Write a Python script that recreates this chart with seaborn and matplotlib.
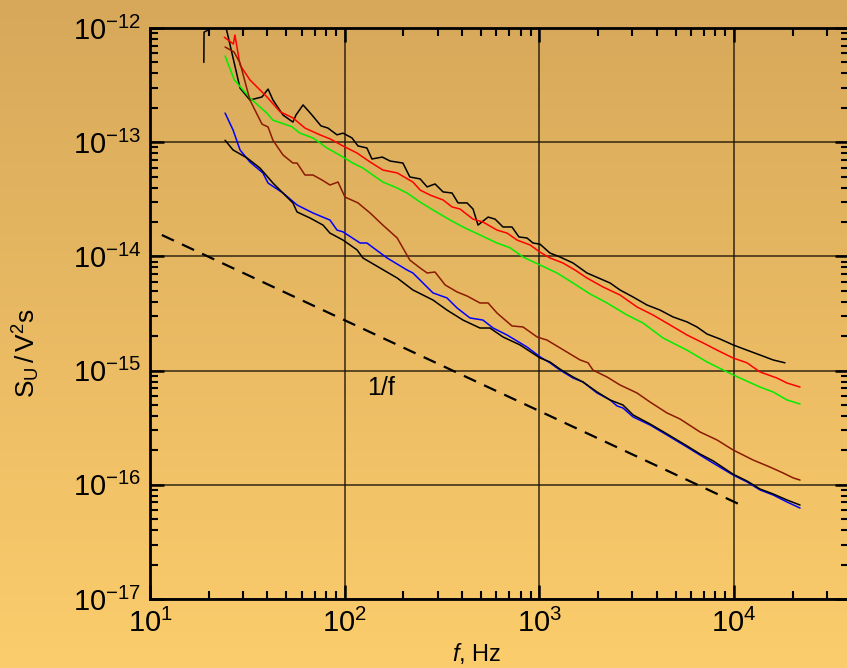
import numpy as np
import pandas as pd
import seaborn as sns
import matplotlib.pyplot as plt
from matplotlib.ticker import LogLocator, NullFormatter

# spectra (f in Hz, S_U in V^2 s)
f_black1 = [18.9, 18.95, 19.9, 21.0, 22.8, 29.0, 32.6, 37.6, 40.4, 42.8, 48.2, 54.2, 56.2, 61.1,
            67.9, 75.5, 82.0, 91.3, 98.0, 109, 117, 130, 138, 156, 171, 199, 216, 244, 265, 291,
            320, 356, 382, 425, 456, 484, 545, 592, 650, 723, 785, 863, 927, 1007, 1133, 1276,
            1489, 1754, 2306, 2595, 3027, 3573, 4160, 4856, 5728, 6445, 7261, 8466, 9870, 11640,
            13580, 15850, 18240]
s_black1 = [5.0e-13, 9.2e-13, 9.6e-13, 2.0e-12, 1.75e-12, 2.98e-13, 2.34e-13, 2.49e-13, 2.92e-13,
            2.34e-13, 1.73e-13, 1.50e-13, 1.73e-13, 2.12e-13, 1.73e-13, 1.39e-13, 1.33e-13,
            1.16e-13, 1.20e-13, 1.09e-13, 9.27e-14, 8.90e-14, 7.13e-14, 7.41e-14, 6.84e-14,
            6.57e-14, 4.96e-14, 4.77e-14, 4.06e-14, 4.31e-14, 3.67e-14, 3.59e-14, 2.94e-14,
            2.94e-14, 2.60e-14, 1.88e-14, 2.21e-14, 2.12e-14, 1.81e-14, 1.81e-14, 1.48e-14,
            1.45e-14, 1.31e-14, 1.28e-14, 1.07e-14, 9.88e-15, 8.75e-15, 7.16e-15, 5.85e-15,
            5.08e-15, 4.41e-15, 3.75e-15, 3.39e-15, 2.95e-15, 2.67e-15, 2.41e-15, 2.09e-15,
            1.89e-15, 1.68e-15, 1.51e-15, 1.37e-15, 1.24e-15, 1.17e-15]

f_red = [24.1, 26.8, 27.3, 29.0, 32.6, 39.8, 46.5, 54.3, 62.5, 74.6, 84.0, 98.0, 115.7, 135, 157,
         186, 224, 244, 274, 320, 356, 391, 456, 513, 606, 682, 768, 895, 1007, 1133, 1321, 1523,
         1754, 2122, 2595, 3170, 3828, 4688, 5728, 6918, 8180, 9870, 11640, 13580, 16600, 18700,
         21800]
s_red = [8.3e-13, 7.24e-13, 8.68e-13, 4.74e-13, 3.51e-13, 2.50e-13, 1.85e-13, 1.63e-13, 1.33e-13,
         1.16e-13, 1.07e-13, 9.27e-14, 8.04e-14, 6.71e-14, 5.71e-14, 5.38e-14, 4.48e-14, 3.81e-14,
         3.45e-14, 3.12e-14, 2.71e-14, 2.60e-14, 2.12e-14, 2.00e-14, 1.70e-14, 1.60e-14, 1.39e-14,
         1.26e-14, 1.09e-14, 9.69e-15, 8.75e-15, 7.60e-15, 6.47e-15, 5.40e-15, 4.59e-15, 3.61e-15,
         3.07e-15, 2.51e-15, 2.05e-15, 1.75e-15, 1.51e-15, 1.29e-15, 1.17e-15, 9.73e-16, 8.61e-16,
         7.78e-16, 7.18e-16]

f_green = [24.3, 27.1, 32.6, 39.8, 42.8, 53.4, 58.9, 68.7, 81.1, 98.0, 110, 124, 157, 186, 209,
           244, 284, 348, 405, 495, 606, 706, 824, 1007, 1231, 1489, 1820, 2224, 2818, 3406,
           4315, 5728, 7261, 9204, 10720, 13580, 15850, 18700, 21800]
s_green = [5.69e-13, 3.51e-13, 2.44e-13, 1.80e-13, 1.56e-13, 1.37e-13, 1.20e-13, 1.09e-13,
           8.90e-14, 7.41e-14, 6.57e-14, 5.94e-14, 4.48e-14, 3.97e-14, 3.59e-14, 2.99e-14,
           2.55e-14, 2.08e-14, 1.81e-14, 1.54e-14, 1.31e-14, 1.19e-14, 9.88e-15, 8.41e-15,
           7.16e-15, 5.85e-15, 4.69e-15, 3.91e-15, 3.07e-15, 2.61e-15, 1.93e-15, 1.51e-15,
           1.19e-15, 9.73e-16, 8.61e-16, 7.18e-16, 6.50e-16, 5.53e-16, 5.10e-16]

f_brown = [24.3, 27.0, 29.0, 32.6, 37.6, 40.4, 42.8, 48.2, 54.2, 56.9, 62.5, 68.7, 76.4, 84.0,
           92.4, 100.3, 117, 135, 157, 186, 216, 244, 265, 291, 328, 378, 425, 495, 545, 606,
           723, 824, 973, 1094, 1276, 1617, 1778, 1884, 2224, 2595, 3170, 3698, 4519, 5272,
           6683, 8166, 9870, 12500, 15280, 17830, 20080, 21800]
s_brown = [6.82e-13, 6.17e-13, 4.94e-13, 2.34e-13, 1.44e-13, 1.36e-13, 1.04e-13, 7.73e-14,
           6.57e-14, 6.57e-14, 5.16e-14, 5.16e-14, 4.67e-14, 4.22e-14, 4.48e-14, 3.31e-14,
           2.94e-14, 2.40e-14, 1.88e-14, 1.45e-14, 9.29e-15, 7.91e-15, 7.16e-15, 7.30e-15,
           5.62e-15, 4.88e-15, 4.50e-15, 3.91e-15, 3.91e-15, 3.19e-15, 2.46e-15, 2.41e-15,
           1.97e-15, 1.85e-15, 1.58e-15, 1.24e-15, 1.17e-15, 1.01e-15, 8.79e-16, 7.48e-16,
           6.37e-16, 5.31e-16, 4.26e-16, 3.77e-16, 2.90e-16, 2.47e-16, 2.02e-16, 1.65e-16,
           1.43e-16, 1.27e-16, 1.15e-16, 1.10e-16]

f_blue = [24.3, 26.7, 29.0, 32.6, 38.0, 40.4, 48.2, 56.9, 68.7, 84.0, 91.3, 98.0, 120, 130, 165,
          209, 224, 284, 335, 378, 440, 513, 578, 682, 863, 1007, 1133, 1276, 1489, 1675, 1977,
          2306, 2506, 2685, 3027, 3698, 4519, 5728, 6683, 7798, 9870, 11640, 13580, 15850,
          18700, 21800]
s_blue = [1.80e-13, 1.28e-13, 8.55e-14, 6.71e-14, 5.38e-14, 4.39e-14, 3.59e-14, 2.82e-14,
          2.40e-14, 2.08e-14, 1.70e-14, 1.64e-14, 1.31e-14, 1.31e-14, 9.69e-15, 7.60e-15,
          7.16e-15, 4.79e-15, 4.33e-15, 3.53e-15, 2.89e-15, 2.77e-15, 2.36e-15, 2.05e-15,
          1.61e-15, 1.32e-15, 1.17e-15, 1.01e-15, 8.61e-16, 7.94e-16, 6.37e-16, 5.53e-16,
          4.90e-16, 4.71e-16, 3.93e-16, 3.34e-16, 2.73e-16, 2.14e-16, 1.82e-16, 1.55e-16,
          1.22e-16, 1.06e-16, 9.02e-17, 8.15e-17, 7.07e-17, 6.26e-17]

f_black2 = [24.3, 26.7, 31.5, 36.7, 42.8, 50.5, 54.2, 56.9, 66.3, 77.4, 84.0, 98.0, 115.7, 124,
            152, 186, 224, 284, 335, 405, 495, 557, 650, 794, 1007, 1133, 1276, 1489, 1675, 1977,
            2306, 2685, 3027, 3698, 4519, 5728, 6683, 7798, 9870, 11640, 13580, 15850, 18700,
            21800]
s_black2 = [1.04e-13, 8.55e-14, 7.28e-14, 5.94e-14, 4.39e-14, 3.31e-14, 2.94e-14, 2.45e-14,
            2.17e-14, 1.88e-14, 1.60e-14, 1.39e-14, 1.14e-14, 9.69e-15, 7.91e-15, 6.47e-15,
            5.08e-15, 4.15e-15, 3.39e-15, 2.77e-15, 2.36e-15, 2.36e-15, 1.97e-15, 1.68e-15,
            1.29e-15, 1.19e-15, 1.03e-15, 8.79e-16, 7.94e-16, 6.50e-16, 5.53e-16, 5.00e-16,
            4.09e-16, 3.41e-16, 2.79e-16, 2.19e-16, 1.86e-16, 1.62e-16, 1.24e-16, 1.08e-16,
            9.19e-17, 8.32e-17, 7.36e-17, 6.65e-17]

# 1/f guide line
f_guide = [11.5, 10840]
s_guide = [1.54e-14, 6.65e-17]

# decade ticks
x_ticks = [1e1, 1e2, 1e3, 1e4]
y_ticks = [1e-17, 1e-16, 1e-15, 1e-14, 1e-13, 1e-12]

curves = {
    "black1": (f_black1, s_black1),
    "red": (f_red, s_red),
    "green": (f_green, s_green),
    "brown": (f_brown, s_brown),
    "blue": (f_blue, s_blue),
    "black2": (f_black2, s_black2),
}
colors = {"black1": "#000000", "red": "#ff0000", "green": "#00ee00",
          "brown": "#8b1a00", "blue": "#0000ff", "black2": "#000000"}

df = pd.concat([pd.DataFrame({"f": f, "S": s, "curve": name}) for name, (f, s) in curves.items()],
               ignore_index=True)
guide = pd.DataFrame({"f": f_guide, "S": s_guide})

sns.set_theme(style="ticks")
plt.rcParams["font.family"] = ["Liberation Sans", "DejaVu Sans"]
plt.rcParams["mathtext.fontset"] = "custom"
plt.rcParams["mathtext.rm"] = "Liberation Sans"
plt.rcParams["mathtext.it"] = "Liberation Sans:italic"
plt.rcParams["mathtext.default"] = "regular"
plt.rcParams["text.color"] = "black"
plt.rcParams["axes.labelcolor"] = "black"

fig = plt.figure(figsize=(8.47, 6.68), dpi=100)

# vertical gradient background, drawn straight into the figure
top = np.array([215, 168, 90]) / 255
bot = np.array([252, 205, 108]) / 255
t = np.linspace(0, 1, 668)[:, None, None]
grad = np.repeat(top * (1 - t) + bot * t, 847, axis=1)
fig.figimage(grad, xo=0, yo=0, origin="upper", zorder=0)

ax = fig.add_axes([150 / 847, 69 / 668, 699 / 847, 571 / 668], zorder=1)
ax.set_facecolor("none")

sns.lineplot(data=df, x="f", y="S", hue="curve", palette=colors, sort=False,
             estimator=None, legend=False, lw=1.1, ax=ax)
sns.lineplot(data=guide, x="f", y="S", color="black", lw=1.6, ax=ax,
             linestyle=(0, (6, 4)))

ax.set_xscale("log")
ax.set_yscale("log")
ax.set_xticks(x_ticks)
ax.set_yticks(y_ticks)
ax.set_xlim(10, 10 ** 4.59)
ax.set_ylim(1e-17, 1e-12)

ax.xaxis.set_minor_locator(LogLocator(base=10, subs=np.arange(2, 10), numticks=100))
ax.yaxis.set_minor_locator(LogLocator(base=10, subs=np.arange(2, 10), numticks=100))
ax.xaxis.set_minor_formatter(NullFormatter())
ax.yaxis.set_minor_formatter(NullFormatter())

ax.tick_params(which="both", direction="in", top=True, right=True, colors="black")
ax.tick_params(which="major", length=10, width=1.8, labelsize=21)
ax.tick_params(axis="x", which="major", pad=7)
ax.tick_params(axis="y", which="major", pad=6)
ax.tick_params(which="minor", length=6, width=1.5)
for sp in ax.spines.values():
    sp.set_linewidth(2)
    sp.set_color("black")

ax.grid(which="major", color="#1e1608", lw=1.1, alpha=0.9)
ax.grid(which="minor", visible=False)

ax.text(130, 6.1e-16, "1/f", fontsize=18, ha="left", va="baseline")

ax.set_xlabel("$\\it{f}$, Hz", fontsize=17)
ax.xaxis.set_label_coords(0.468, -0.074)
ax.set_ylabel("$S_U\\,/\\,V^2 s$", fontsize=19)
ax.yaxis.set_label_coords(-0.155, 0.43)

fig.savefig("out.png", dpi=100)
